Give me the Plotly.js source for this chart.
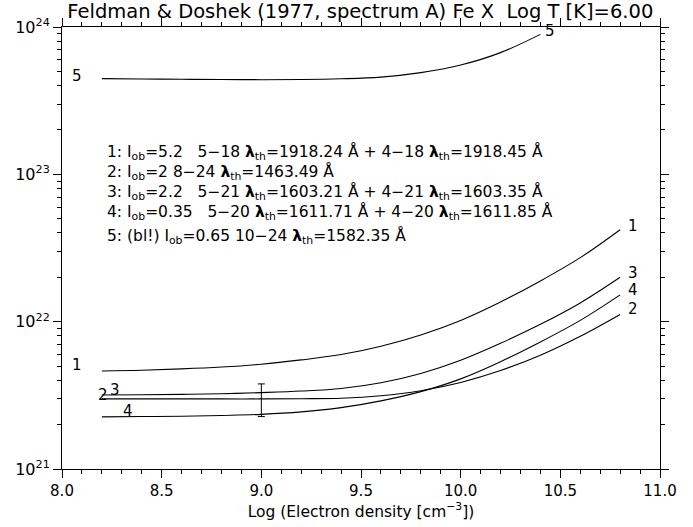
<!DOCTYPE html>
<html>
<head>
<meta charset="utf-8">
<script src="https://cdn.plot.ly/plotly-3.0.1.min.js"></script>
<style>
  html, body { margin: 0; padding: 0; background: #fff; }
  #chart { width: 693px; height: 527px; }
</style>
</head>
<body>
<div id="chart"></div>
<script>
// Log electron density grid (cm^-3) for curves 1-4
const logNe = [8.2, 8.4, 8.6, 8.8, 9.0, 9.2, 9.4, 9.6, 9.8, 10.0, 10.2, 10.4, 10.6, 10.8];
// Log electron density grid for curve 5 (blended line)
const logNe5 = [8.2, 8.4, 8.6, 8.8, 9.0, 9.2, 9.4, 9.6, 9.8, 10.0, 10.2, 10.4];

// Emission-measure-type curves (cm^-5) per line
const curve1 = [4.63e21, 4.68e21, 4.78e21, 4.92e21, 5.14e21, 5.50e21, 5.98e21, 6.82e21, 8.13e21, 1.02e22, 1.36e22, 1.89e22, 2.72e22, 4.21e22];
const curve2 = [2.99e21, 2.99e21, 2.99e21, 2.99e21, 2.99e21, 3.00e21, 3.02e21, 3.14e21, 3.40e21, 3.87e21, 4.66e21, 5.92e21, 7.96e21, 1.12e22];
const curve3 = [3.18e21, 3.19e21, 3.21e21, 3.24e21, 3.30e21, 3.38e21, 3.52e21, 3.85e21, 4.45e21, 5.47e21, 7.13e21, 9.59e21, 1.34e22, 2.00e22];
const curve4 = [2.26e21, 2.27e21, 2.28e21, 2.31e21, 2.35e21, 2.44e21, 2.61e21, 2.90e21, 3.35e21, 4.09e21, 5.35e21, 7.28e21, 1.02e22, 1.52e22];
const curve5 = [4.46e23, 4.44e23, 4.42e23, 4.40e23, 4.39e23, 4.40e23, 4.45e23, 4.57e23, 4.90e23, 5.52e23, 6.70e23, 8.91e23];

// Observed point with its uncertainty range
const obsX = [9.0];
const obsY = [2.93e21];
const obsUp = [0.85e21];
const obsDown = [0.66e21];

// Line identifications listed inside the plot
const lineInfo = [
  "1: I<sub>ob</sub>=5.2   5\u221218 <b>\u03bb</b><sub>th</sub>=1918.24 \u00c5 + 4\u221218 <b>\u03bb</b><sub>th</sub>=1918.45 \u00c5",
  "2: I<sub>ob</sub>=2 8\u221224 <b>\u03bb</b><sub>th</sub>=1463.49 \u00c5",
  "3: I<sub>ob</sub>=2.2   5\u221221 <b>\u03bb</b><sub>th</sub>=1603.21 \u00c5 + 4\u221221 <b>\u03bb</b><sub>th</sub>=1603.35 \u00c5",
  "4: I<sub>ob</sub>=0.35   5\u221220 <b>\u03bb</b><sub>th</sub>=1611.71 \u00c5 + 4\u221220 <b>\u03bb</b><sub>th</sub>=1611.85 \u00c5",
  "5: (bl!) I<sub>ob</sub>=0.65 10\u221224 <b>\u03bb</b><sub>th</sub>=1582.35 \u00c5"
];

const FONT = "'DejaVu Sans', 'Liberation Sans', sans-serif";
const lineStyle = {color: '#000', width: 1.1, shape: 'spline', smoothing: 1};

const traces = [
  {x: logNe, y: curve1, mode: 'lines', line: lineStyle, hoverinfo: 'skip'},
  {x: logNe, y: curve2, mode: 'lines', line: lineStyle, hoverinfo: 'skip'},
  {x: logNe, y: curve3, mode: 'lines', line: lineStyle, hoverinfo: 'skip'},
  {x: logNe, y: curve4, mode: 'lines', line: lineStyle, hoverinfo: 'skip'},
  {x: logNe5, y: curve5, mode: 'lines', line: lineStyle, hoverinfo: 'skip'},
  {
    x: obsX, y: obsY, mode: 'markers',
    marker: {size: 1, color: 'rgba(0,0,0,0)'},
    error_y: {type: 'data', symmetric: false, array: obsUp, arrayminus: obsDown,
              color: '#000', thickness: 1, width: 3.5},
    hoverinfo: 'skip'
  }
];

// Minor tick positions on the log axis: 2..9 within each decade
const minorY = [];
for (let e = 21; e < 24; e++) {
  for (let m = 2; m <= 9; m++) minorY.push(m * Math.pow(10, e));
}

const annotations = [];
// Identification text block (y in decades, log axis)
const infoY = [23.147, 23.015, 22.878, 22.742, 22.575];
lineInfo.forEach((t, i) => {
  annotations.push({
    x: 8.215, y: infoY[i], xref: 'x', yref: 'y', text: t, showarrow: false,
    xanchor: 'left', yanchor: 'middle', font: {family: FONT, size: 15.5, color: '#000'}
  });
});
// Curve number labels
const curveLabels = [
  {t: '5', x: 8.075, y: 23.665},
  {t: '5', x: 10.45, y: 23.97},
  {t: '1', x: 8.075, y: 21.705},
  {t: '2', x: 8.205, y: 21.505},
  {t: '3', x: 8.268, y: 21.535},
  {t: '4', x: 8.33, y: 21.392},
  {t: '1', x: 10.865, y: 22.65},
  {t: '3', x: 10.865, y: 22.33},
  {t: '4', x: 10.865, y: 22.213},
  {t: '2', x: 10.865, y: 22.085}
];
curveLabels.forEach(l => {
  annotations.push({
    x: l.x, y: l.y, xref: 'x', yref: 'y', text: l.t, showarrow: false,
    xanchor: 'center', yanchor: 'middle', font: {family: FONT, size: 15, color: '#000'}
  });
});

const layout = {
  width: 693, height: 527,
  margin: {l: 62, r: 33, t: 27, b: 58, pad: 0},
  paper_bgcolor: '#fff', plot_bgcolor: '#fff',
  showlegend: false,
  font: {family: FONT, color: '#000', size: 14},
  title: {
    text: 'Feldman & Doshek (1977, spectrum A) Fe X  Log T [K]=6.00',
    font: {family: FONT, size: 19.5, color: '#000'},
    x: 0.52, xanchor: 'center', y: 0.978, yanchor: 'middle'
  },
  xaxis: {
    range: [8, 11], showgrid: false, zeroline: false,
    showline: true, linecolor: '#000', linewidth: 1, mirror: 'ticks',
    ticks: 'outside', ticklen: 8, tickwidth: 1, tickcolor: '#000',
    tickvals: [8, 8.5, 9, 9.5, 10, 10.5, 11],
    ticktext: ['8.0', '8.5', '9.0', '9.5', '10.0', '10.5', '11.0'],
    tickfont: {family: FONT, size: 15},
    minor: {dtick: 0.1, ticks: 'outside', ticklen: 4, tickcolor: '#000', tickwidth: 1, showgrid: false},
    title: {text: 'Log (Electron density [cm<sup>\u22123</sup>])', font: {family: FONT, size: 15.5}, standoff: 6}
  },
  yaxis: {
    type: 'log', range: [21, 24], showgrid: false, zeroline: false,
    showline: true, linecolor: '#000', linewidth: 1, mirror: 'ticks',
    ticks: 'outside', ticklen: 8, tickwidth: 1, tickcolor: '#000',
    tickvals: [1e21, 1e22, 1e23, 1e24],
    ticktext: ['10<sup>21</sup>', '10<sup>22</sup>', '10<sup>23</sup>', '10<sup>24</sup>'],
    tickfont: {family: FONT, size: 16},
    minor: {tickvals: minorY, ticks: 'outside', ticklen: 4, tickcolor: '#000', tickwidth: 1, showgrid: false}
  },
  annotations: annotations
};

Plotly.newPlot('chart', traces, layout, {displayModeBar: false, staticPlot: true});
</script>
</body>
</html>
